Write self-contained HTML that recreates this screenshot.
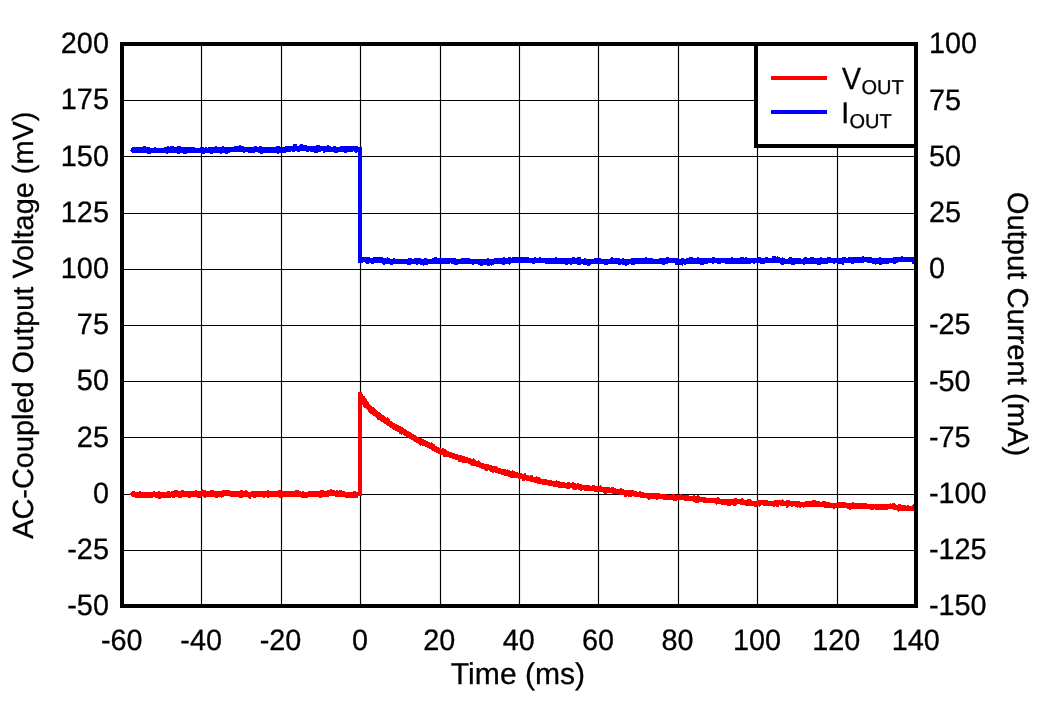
<!DOCTYPE html>
<html><head><meta charset="utf-8"><style>html,body{margin:0;padding:0;background:#fff;width:1046px;height:701px;overflow:hidden}</style></head>
<body>
<svg width="1046" height="701" viewBox="0 0 1046 701" style="position:absolute;left:0;top:0">
<rect width="100%" height="100%" fill="#fff"/>
<path d="M201.5 46V604 M281.5 46V604 M360.5 46V604 M440.5 46V604 M519.5 46V604 M598.5 46V604 M678.5 46V604 M757.5 46V604 M837.5 46V604 M124 100.5H914 M124 156.5H914 M124 213.5H914 M124 269.5H914 M124 325.5H914 M124 381.5H914 M124 437.5H914 M124 494.5H914 M124 550.5H914" stroke="#000" stroke-width="1.15" fill="none"/>
<polygon points="130,493 131,493 131,492 132,492 132,491 135,491 135,492 139,492 139,491 141,491 141,492 153,492 153,491 155,491 155,492 158,492 158,491 160,491 160,492 167,492 167,491 170,491 170,492 171,492 171,491 174,491 174,490 178,490 178,491 181,491 181,490 184,490 184,491 195,491 195,490 197,490 197,491 201,491 201,490 202,490 202,489 203,489 203,490 206,490 206,491 210,491 210,490 214,490 214,491 222,491 222,490 230,490 230,491 240,491 240,490 243,490 243,491 245,491 245,490 247,490 247,491 248,491 248,492 251,492 251,491 267,491 267,490 269,490 269,491 278,491 278,490 281,490 281,491 295,491 295,490 299,490 299,491 301,491 301,492 302,492 302,491 304,491 304,492 308,492 308,491 320,491 320,490 324,490 324,491 327,491 327,490 330,490 330,489 332,489 332,490 335,490 335,491 336,491 336,490 338,490 338,491 339,491 339,490 342,490 342,491 345,491 345,492 353,492 353,491 356,491 356,492 358,492 358,498 345,498 345,497 335,497 335,496 329,496 329,497 322,497 322,498 319,498 319,497 308,497 308,498 301,498 301,497 283,497 283,498 279,498 279,497 269,497 269,498 267,498 267,497 265,497 265,498 263,498 263,497 256,497 256,498 253,498 253,497 251,497 251,499 249,499 249,498 248,498 248,497 243,497 243,498 239,498 239,497 230,497 230,496 224,496 224,497 222,497 222,498 221,498 221,497 218,497 218,498 215,498 215,497 206,497 206,498 204,498 204,497 203,497 203,496 201,496 201,498 197,498 197,497 191,497 191,498 188,498 188,497 182,497 182,498 178,498 178,497 175,497 175,498 172,498 172,497 171,497 171,498 161,498 161,499 158,499 158,498 155,498 155,497 153,497 153,498 135,498 135,497 132,497 132,496 131,496 131,495 130,495" fill="#f00" shape-rendering="crispEdges"/>
<rect x="358" y="392" width="4" height="104" fill="#f00" shape-rendering="crispEdges"/>
<polygon points="362,394 363,394 363,396 365,396 365,398 366,398 366,399 367,399 367,401 368,401 368,402 369,402 369,404 370,404 370,405 371,405 371,406 372,406 372,407 374,407 374,408 375,408 375,409 376,409 376,410 377,410 377,411 378,411 378,412 380,412 380,413 381,413 381,414 382,414 382,415 384,415 384,416 385,416 385,417 386,417 386,418 387,418 387,417 388,417 388,418 389,418 389,419 390,419 390,421 392,421 392,422 393,422 393,423 395,423 395,424 397,424 397,425 399,425 399,426 401,426 401,427 403,427 403,428 404,428 404,429 406,429 406,430 407,430 407,431 409,431 409,432 411,432 411,433 412,433 412,434 414,434 414,435 416,435 416,436 417,436 417,437 419,437 419,438 422,438 422,439 424,439 424,440 426,440 426,441 428,441 428,442 430,442 430,443 431,443 431,442 432,442 432,443 433,443 433,444 435,444 435,446 437,446 437,447 439,447 439,448 441,448 441,449 442,449 442,448 444,448 444,449 446,449 446,450 447,450 447,451 449,451 449,452 452,452 452,453 455,453 455,454 458,454 458,455 462,455 462,456 465,456 465,457 468,457 468,458 471,458 471,459 473,459 473,458 474,458 474,459 475,459 475,460 476,460 476,461 478,461 478,460 479,460 479,461 480,461 480,462 481,462 481,463 484,463 484,464 489,464 489,465 492,465 492,466 497,466 497,467 498,467 498,468 501,468 501,469 506,469 506,470 507,470 507,469 508,469 508,470 510,470 510,471 512,471 512,470 513,470 513,471 515,471 515,472 518,472 518,473 522,473 522,474 524,474 524,473 526,473 526,475 529,475 529,476 530,476 530,475 533,475 533,477 536,477 536,476 537,476 537,477 540,477 540,478 541,478 541,479 547,479 547,480 552,480 552,481 556,481 556,480 557,480 557,481 560,481 560,482 565,482 565,483 567,483 567,482 570,482 570,483 572,483 572,482 574,482 574,483 576,483 576,484 577,484 577,483 579,483 579,484 582,484 582,485 590,485 590,486 592,486 592,485 595,485 595,486 600,486 600,485 601,485 601,486 602,486 602,487 610,487 610,488 611,488 611,487 614,487 614,488 616,488 616,489 620,489 620,488 622,488 622,489 624,489 624,490 634,490 634,491 637,491 637,492 639,492 639,491 641,491 641,492 644,492 644,493 660,493 660,494 667,494 667,495 672,495 672,494 675,494 675,495 680,495 680,494 682,494 682,495 689,495 689,496 693,496 693,495 695,495 695,496 697,496 697,495 699,495 699,496 700,496 700,497 706,497 706,498 717,498 717,497 719,497 719,498 720,498 720,499 734,499 734,498 737,498 737,499 741,499 741,498 743,498 743,499 744,499 744,500 747,500 747,499 751,499 751,500 752,500 752,501 757,501 757,500 768,500 768,501 774,501 774,500 782,500 782,499 783,499 783,500 784,500 784,501 786,501 786,500 790,500 790,501 800,501 800,502 805,502 805,501 812,501 812,500 816,500 816,501 820,501 820,502 822,502 822,501 826,501 826,502 830,502 830,503 838,503 838,502 846,502 846,503 852,503 852,502 854,502 854,503 867,503 867,504 890,504 890,503 891,503 891,504 892,504 892,503 895,503 895,504 896,504 896,505 898,505 898,504 901,504 901,505 906,505 906,506 907,506 907,505 909,505 909,506 912,506 912,505 913,505 913,504 914,504 914,511 899,511 899,512 898,512 898,511 897,511 897,510 893,510 893,509 888,509 888,510 875,510 875,509 874,509 874,510 870,510 870,509 851,509 851,510 849,510 849,509 847,509 847,508 835,508 835,509 833,509 833,508 824,508 824,507 804,507 804,508 803,508 803,507 801,507 801,508 799,508 799,507 798,507 798,508 797,508 797,507 795,507 795,506 793,506 793,507 791,507 791,506 789,506 789,507 788,507 788,508 786,508 786,506 780,506 780,505 779,505 779,507 776,507 776,506 775,506 775,507 773,507 773,506 763,506 763,505 761,505 761,506 760,506 760,507 759,507 759,506 757,506 757,507 754,507 754,506 745,506 745,505 740,505 740,504 737,504 737,505 736,505 736,506 733,506 733,505 731,505 731,506 727,506 727,505 721,505 721,504 717,504 717,505 716,505 716,504 715,504 715,503 703,503 703,502 699,502 699,503 695,503 695,502 693,502 693,501 684,501 684,500 677,500 677,501 673,501 673,500 663,500 663,499 658,499 658,500 656,500 656,499 650,499 650,500 648,500 648,499 647,499 647,498 640,498 640,497 634,497 634,496 632,496 632,497 628,497 628,496 627,496 627,497 624,497 624,495 619,495 619,494 612,494 612,493 607,493 607,494 604,494 604,493 603,493 603,492 594,492 594,491 584,491 584,490 582,490 582,491 580,491 580,490 578,490 578,489 577,489 577,490 573,490 573,489 572,489 572,488 570,488 570,489 566,489 566,488 558,488 558,487 553,487 553,486 548,486 548,485 542,485 542,484 537,484 537,483 534,483 534,482 530,482 530,481 526,481 526,480 525,480 525,481 522,481 522,479 518,479 518,478 510,478 510,477 508,477 508,476 504,476 504,475 501,475 501,474 498,474 498,473 495,473 495,472 494,472 494,473 492,473 492,472 490,472 490,471 489,471 489,470 488,470 488,471 485,471 485,470 484,470 484,469 481,469 481,468 479,468 479,467 476,467 476,466 471,466 471,465 470,465 470,464 468,464 468,463 462,463 462,462 458,462 458,460 455,460 455,459 452,459 452,458 449,458 449,457 443,457 443,455 440,455 440,454 438,454 438,453 436,453 436,452 434,452 434,451 432,451 432,450 431,450 431,449 429,449 429,448 427,448 427,447 425,447 425,446 422,446 422,445 421,445 421,446 420,446 420,445 419,445 419,444 418,444 418,443 416,443 416,442 414,442 414,441 413,441 413,440 411,440 411,439 409,439 409,438 408,438 408,437 406,437 406,436 404,436 404,435 403,435 403,434 402,434 402,435 401,435 401,434 399,434 399,432 397,432 397,431 395,431 395,430 393,430 393,429 392,429 392,428 390,428 390,427 389,427 389,426 387,426 387,425 386,425 386,424 384,424 384,423 383,423 383,422 381,422 381,421 380,421 380,420 377,420 377,418 376,418 376,417 375,417 375,416 373,416 373,415 372,415 372,414 370,414 370,413 369,413 369,412 368,412 368,410 367,410 367,409 366,409 366,408 364,408 364,407 363,407 363,405 362,405" fill="#f00" shape-rendering="crispEdges"/>
<polygon points="130,150 131,150 131,148 132,148 132,147 143,147 143,146 146,146 146,147 150,147 150,148 154,148 154,147 156,147 156,148 164,148 164,147 167,147 167,146 169,146 169,147 170,147 170,146 174,146 174,147 177,147 177,146 181,146 181,147 195,147 195,148 200,148 200,147 204,147 204,148 205,148 205,147 207,147 207,148 208,148 208,147 215,147 215,146 217,146 217,147 222,147 222,146 224,146 224,147 234,147 234,146 239,146 239,145 241,145 241,146 244,146 244,147 254,147 254,146 257,146 257,147 259,147 259,146 262,146 262,147 276,147 276,146 280,146 280,147 285,147 285,146 293,146 293,144 297,144 297,146 299,146 299,145 300,145 300,144 303,144 303,145 307,145 307,146 316,146 316,145 320,145 320,146 327,146 327,145 329,145 329,146 331,146 331,147 333,147 333,146 336,146 336,147 340,147 340,146 358,146 358,152 357,152 357,153 355,153 355,152 354,152 354,151 353,151 353,152 347,152 347,153 344,153 344,152 338,152 338,153 334,153 334,152 325,152 325,153 323,153 323,151 321,151 321,152 318,152 318,153 314,153 314,152 310,152 310,151 309,151 309,152 306,152 306,151 300,151 300,152 297,152 297,151 295,151 295,152 292,152 292,151 291,151 291,152 286,152 286,153 279,153 279,154 277,154 277,153 263,153 263,154 260,154 260,153 258,153 258,152 255,152 255,153 248,153 248,152 245,152 245,153 243,153 243,152 230,152 230,153 228,153 228,154 225,154 225,153 222,153 222,154 220,154 220,153 213,153 213,154 210,154 210,153 205,153 205,154 201,154 201,153 187,153 187,154 183,154 183,153 180,153 180,154 177,154 177,153 168,153 168,154 166,154 166,153 151,153 151,154 147,154 147,153 132,153 132,152 131,152 131,151 130,151" fill="#00f" shape-rendering="crispEdges"/>
<rect x="358" y="147" width="4" height="116" fill="#00f" shape-rendering="crispEdges"/>
<polygon points="362,257 370,257 370,258 373,258 373,257 383,257 383,258 387,258 387,257 388,257 388,258 390,258 390,259 393,259 393,258 395,258 395,259 408,259 408,258 412,258 412,259 414,259 414,258 421,258 421,259 424,259 424,258 427,258 427,259 432,259 432,258 434,258 434,257 437,257 437,258 456,258 456,259 461,259 461,258 470,258 470,259 487,259 487,258 489,258 489,259 494,259 494,258 503,258 503,257 505,257 505,258 508,258 508,257 511,257 511,258 512,258 512,257 529,257 529,258 534,258 534,257 536,257 536,258 539,258 539,257 541,257 541,258 555,258 555,257 557,257 557,258 572,258 572,257 575,257 575,258 577,258 577,257 581,257 581,259 584,259 584,258 586,258 586,259 594,259 594,258 601,258 601,259 610,259 610,258 611,258 611,257 613,257 613,258 620,258 620,259 622,259 622,258 624,258 624,259 631,259 631,258 645,258 645,257 647,257 647,258 653,258 653,259 659,259 659,258 666,258 666,257 669,257 669,258 679,258 679,259 681,259 681,258 684,258 684,259 686,259 686,258 689,258 689,257 693,257 693,258 697,258 697,257 699,257 699,258 712,258 712,257 715,257 715,258 731,258 731,257 733,257 733,258 740,258 740,257 744,257 744,258 745,258 745,257 747,257 747,258 758,258 758,257 761,257 761,258 765,258 765,257 768,257 768,258 772,258 772,256 776,256 776,257 777,257 777,256 778,256 778,257 780,257 780,258 782,258 782,257 783,257 783,258 785,258 785,259 788,259 788,258 789,258 789,257 792,257 792,258 801,258 801,259 803,259 803,258 804,258 804,257 807,257 807,258 810,258 810,257 814,257 814,258 820,258 820,257 822,257 822,258 827,258 827,257 831,257 831,258 842,258 842,257 846,257 846,258 848,258 848,257 862,257 862,256 864,256 864,257 872,257 872,258 879,258 879,257 881,257 881,258 893,258 893,257 901,257 901,256 903,256 903,257 914,257 914,264 912,264 912,262 898,262 898,263 896,263 896,264 893,264 893,263 889,263 889,264 882,264 882,265 879,265 879,264 876,264 876,265 875,265 875,264 872,264 872,263 867,263 867,262 864,262 864,263 854,263 854,264 851,264 851,263 844,263 844,265 842,265 842,264 837,264 837,263 835,263 835,264 833,264 833,263 828,263 828,264 821,264 821,265 817,265 817,264 805,264 805,265 803,265 803,264 795,264 795,265 791,265 791,264 784,264 784,265 781,265 781,264 780,264 780,263 765,263 765,264 760,264 760,263 755,263 755,264 753,264 753,263 751,263 751,264 725,264 725,263 721,263 721,264 717,264 717,263 714,263 714,264 712,264 712,263 708,263 708,264 704,264 704,265 700,265 700,264 686,264 686,265 684,265 684,264 683,264 683,266 682,266 682,265 679,265 679,264 678,264 678,265 675,265 675,263 668,263 668,264 665,264 665,265 662,265 662,264 635,264 635,265 631,265 631,264 629,264 629,265 627,265 627,266 625,266 625,265 622,265 622,264 621,264 621,265 618,265 618,264 608,264 608,265 604,265 604,264 591,264 591,265 590,265 590,266 587,266 587,265 583,265 583,264 581,264 581,265 577,265 577,264 572,264 572,265 570,265 570,264 568,264 568,265 565,265 565,264 545,264 545,263 535,263 535,264 532,264 532,263 511,263 511,264 510,264 510,265 509,265 509,264 505,264 505,265 502,265 502,264 494,264 494,265 492,265 492,266 491,266 491,265 490,265 490,266 487,266 487,265 483,265 483,266 480,266 480,265 478,265 478,264 474,264 474,265 472,265 472,264 458,264 458,265 454,265 454,264 451,264 451,263 450,263 450,264 428,264 428,265 424,265 424,266 423,266 423,265 420,265 420,264 418,264 418,265 416,265 416,264 411,264 411,265 407,265 407,264 393,264 393,265 390,265 390,264 385,264 385,265 383,265 383,264 382,264 382,263 374,263 374,264 371,264 371,263 369,263 369,264 366,264 366,263 365,263 365,262 363,262 363,263 362,263" fill="#00f" shape-rendering="crispEdges"/>
<rect x="756" y="44" width="160" height="102" fill="#fff" stroke="#000" stroke-width="4"/>
<rect x="771" y="76" width="56" height="4" fill="#f00"/>
<rect x="771" y="110" width="56" height="4" fill="#00f"/>
<text transform="translate(842,88.9) scale(1,1.075)" font-family="Liberation Sans, Arial, sans-serif" text-rendering="geometricPrecision" stroke="#000" stroke-width="0.3" font-size="28.5">V</text>
<text x="861.5" y="93.9" font-family="Liberation Sans, Arial, sans-serif" text-rendering="geometricPrecision" stroke="#000" stroke-width="0.3" font-size="20">OUT</text>
<text transform="translate(841.3,122.6) scale(1,1.05)" font-family="Liberation Sans, Arial, sans-serif" text-rendering="geometricPrecision" stroke="#000" stroke-width="0.3" font-size="28.5">I</text>
<text x="849.5" y="127.6" font-family="Liberation Sans, Arial, sans-serif" text-rendering="geometricPrecision" stroke="#000" stroke-width="0.3" font-size="20">OUT</text>
<rect x="122" y="44" width="794" height="562" fill="none" stroke="#000" stroke-width="4"/>
<text transform="translate(108.90,53.20) scale(1,1.025)" text-anchor="end" font-family="Liberation Sans, Arial, sans-serif" text-rendering="geometricPrecision" stroke="#000" stroke-width="0.3" font-size="28.8">200</text>
<text transform="translate(108.90,109.40) scale(1,1.025)" text-anchor="end" font-family="Liberation Sans, Arial, sans-serif" text-rendering="geometricPrecision" stroke="#000" stroke-width="0.3" font-size="28.8">175</text>
<text transform="translate(108.90,165.60) scale(1,1.025)" text-anchor="end" font-family="Liberation Sans, Arial, sans-serif" text-rendering="geometricPrecision" stroke="#000" stroke-width="0.3" font-size="28.8">150</text>
<text transform="translate(108.90,221.80) scale(1,1.025)" text-anchor="end" font-family="Liberation Sans, Arial, sans-serif" text-rendering="geometricPrecision" stroke="#000" stroke-width="0.3" font-size="28.8">125</text>
<text transform="translate(108.90,278.00) scale(1,1.025)" text-anchor="end" font-family="Liberation Sans, Arial, sans-serif" text-rendering="geometricPrecision" stroke="#000" stroke-width="0.3" font-size="28.8">100</text>
<text transform="translate(108.90,334.20) scale(1,1.025)" text-anchor="end" font-family="Liberation Sans, Arial, sans-serif" text-rendering="geometricPrecision" stroke="#000" stroke-width="0.3" font-size="28.8">75</text>
<text transform="translate(108.90,390.40) scale(1,1.025)" text-anchor="end" font-family="Liberation Sans, Arial, sans-serif" text-rendering="geometricPrecision" stroke="#000" stroke-width="0.3" font-size="28.8">50</text>
<text transform="translate(108.90,446.60) scale(1,1.025)" text-anchor="end" font-family="Liberation Sans, Arial, sans-serif" text-rendering="geometricPrecision" stroke="#000" stroke-width="0.3" font-size="28.8">25</text>
<text transform="translate(108.90,502.80) scale(1,1.025)" text-anchor="end" font-family="Liberation Sans, Arial, sans-serif" text-rendering="geometricPrecision" stroke="#000" stroke-width="0.3" font-size="28.8">0</text>
<text transform="translate(108.90,559.00) scale(1,1.025)" text-anchor="end" font-family="Liberation Sans, Arial, sans-serif" text-rendering="geometricPrecision" stroke="#000" stroke-width="0.3" font-size="28.8">-25</text>
<text transform="translate(108.90,615.20) scale(1,1.025)" text-anchor="end" font-family="Liberation Sans, Arial, sans-serif" text-rendering="geometricPrecision" stroke="#000" stroke-width="0.3" font-size="28.8">-50</text>
<text transform="translate(929.00,53.30) scale(1,1.025)" font-family="Liberation Sans, Arial, sans-serif" text-rendering="geometricPrecision" stroke="#000" stroke-width="0.3" font-size="28.8">100</text>
<text transform="translate(929.00,109.50) scale(1,1.025)" font-family="Liberation Sans, Arial, sans-serif" text-rendering="geometricPrecision" stroke="#000" stroke-width="0.3" font-size="28.8">75</text>
<text transform="translate(929.00,165.70) scale(1,1.025)" font-family="Liberation Sans, Arial, sans-serif" text-rendering="geometricPrecision" stroke="#000" stroke-width="0.3" font-size="28.8">50</text>
<text transform="translate(929.00,221.90) scale(1,1.025)" font-family="Liberation Sans, Arial, sans-serif" text-rendering="geometricPrecision" stroke="#000" stroke-width="0.3" font-size="28.8">25</text>
<text transform="translate(929.00,278.10) scale(1,1.025)" font-family="Liberation Sans, Arial, sans-serif" text-rendering="geometricPrecision" stroke="#000" stroke-width="0.3" font-size="28.8">0</text>
<text transform="translate(929.00,334.30) scale(1,1.025)" font-family="Liberation Sans, Arial, sans-serif" text-rendering="geometricPrecision" stroke="#000" stroke-width="0.3" font-size="28.8">-25</text>
<text transform="translate(929.00,390.50) scale(1,1.025)" font-family="Liberation Sans, Arial, sans-serif" text-rendering="geometricPrecision" stroke="#000" stroke-width="0.3" font-size="28.8">-50</text>
<text transform="translate(929.00,446.70) scale(1,1.025)" font-family="Liberation Sans, Arial, sans-serif" text-rendering="geometricPrecision" stroke="#000" stroke-width="0.3" font-size="28.8">-75</text>
<text transform="translate(929.00,502.90) scale(1,1.025)" font-family="Liberation Sans, Arial, sans-serif" text-rendering="geometricPrecision" stroke="#000" stroke-width="0.3" font-size="28.8">-100</text>
<text transform="translate(929.00,559.10) scale(1,1.025)" font-family="Liberation Sans, Arial, sans-serif" text-rendering="geometricPrecision" stroke="#000" stroke-width="0.3" font-size="28.8">-125</text>
<text transform="translate(929.00,615.30) scale(1,1.025)" font-family="Liberation Sans, Arial, sans-serif" text-rendering="geometricPrecision" stroke="#000" stroke-width="0.3" font-size="28.8">-150</text>
<text transform="translate(121.70,649.50) scale(1,1.025)" text-anchor="middle" font-family="Liberation Sans, Arial, sans-serif" text-rendering="geometricPrecision" stroke="#000" stroke-width="0.3" font-size="28.8">-60</text>
<text transform="translate(201.10,649.50) scale(1,1.025)" text-anchor="middle" font-family="Liberation Sans, Arial, sans-serif" text-rendering="geometricPrecision" stroke="#000" stroke-width="0.3" font-size="28.8">-40</text>
<text transform="translate(280.50,649.50) scale(1,1.025)" text-anchor="middle" font-family="Liberation Sans, Arial, sans-serif" text-rendering="geometricPrecision" stroke="#000" stroke-width="0.3" font-size="28.8">-20</text>
<text transform="translate(359.90,649.50) scale(1,1.025)" text-anchor="middle" font-family="Liberation Sans, Arial, sans-serif" text-rendering="geometricPrecision" stroke="#000" stroke-width="0.3" font-size="28.8">0</text>
<text transform="translate(439.30,649.50) scale(1,1.025)" text-anchor="middle" font-family="Liberation Sans, Arial, sans-serif" text-rendering="geometricPrecision" stroke="#000" stroke-width="0.3" font-size="28.8">20</text>
<text transform="translate(518.70,649.50) scale(1,1.025)" text-anchor="middle" font-family="Liberation Sans, Arial, sans-serif" text-rendering="geometricPrecision" stroke="#000" stroke-width="0.3" font-size="28.8">40</text>
<text transform="translate(598.10,649.50) scale(1,1.025)" text-anchor="middle" font-family="Liberation Sans, Arial, sans-serif" text-rendering="geometricPrecision" stroke="#000" stroke-width="0.3" font-size="28.8">60</text>
<text transform="translate(677.50,649.50) scale(1,1.025)" text-anchor="middle" font-family="Liberation Sans, Arial, sans-serif" text-rendering="geometricPrecision" stroke="#000" stroke-width="0.3" font-size="28.8">80</text>
<text transform="translate(756.90,649.50) scale(1,1.025)" text-anchor="middle" font-family="Liberation Sans, Arial, sans-serif" text-rendering="geometricPrecision" stroke="#000" stroke-width="0.3" font-size="28.8">100</text>
<text transform="translate(836.30,649.50) scale(1,1.025)" text-anchor="middle" font-family="Liberation Sans, Arial, sans-serif" text-rendering="geometricPrecision" stroke="#000" stroke-width="0.3" font-size="28.8">120</text>
<text transform="translate(915.70,649.50) scale(1,1.025)" text-anchor="middle" font-family="Liberation Sans, Arial, sans-serif" text-rendering="geometricPrecision" stroke="#000" stroke-width="0.3" font-size="28.8">140</text>
<text x="518" y="683.6" text-anchor="middle" font-family="Liberation Sans, Arial, sans-serif" text-rendering="geometricPrecision" stroke="#000" stroke-width="0.3" font-size="30.1">Time (ms)</text>
<text transform="translate(33.2,325.2) rotate(-90) scale(1,1.01)" text-anchor="middle" font-family="Liberation Sans, Arial, sans-serif" text-rendering="geometricPrecision" stroke="#000" stroke-width="0.3" font-size="28.9">AC-Coupled Output Voltage (mV)</text>
<text transform="translate(1007.9,324) rotate(90) scale(1,0.99)" text-anchor="middle" font-family="Liberation Sans, Arial, sans-serif" text-rendering="geometricPrecision" stroke="#000" stroke-width="0.3" font-size="29.2">Output Current (mA)</text>
</svg>
</body></html>
